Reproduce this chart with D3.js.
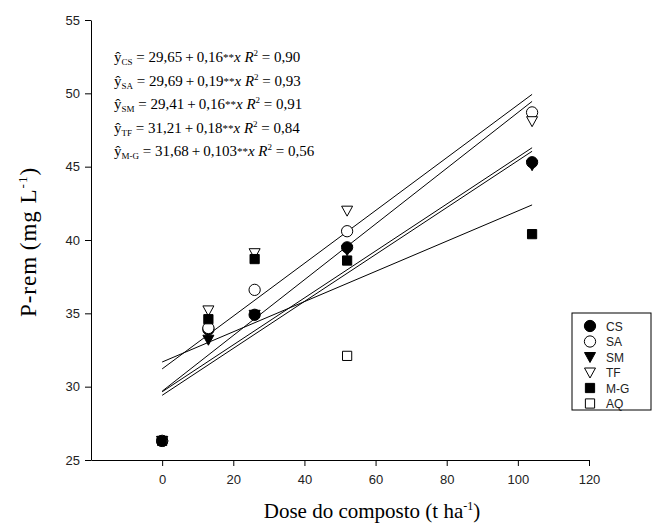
<!DOCTYPE html>
<html>
<head>
<meta charset="utf-8">
<script src="https://cdn.jsdelivr.net/npm/d3@7"></script>
<style>
  html, body { margin: 0; padding: 0; background: #fff; }
  svg { display: block; }
</style>
</head>
<body>
<svg id="chart" width="655" height="526"></svg>
<script>
// Compost dose (t/ha) and remaining P (mg/L) for each soil
const doses = [0, 13, 26, 52, 104];
const seriesNames = ["CS", "SA", "SM", "TF", "M-G", "AQ"];
const valuesCS = [26.3, 33.9, 34.9, 39.5, 45.3];
const valuesSA = [26.3, 34.0, 36.6, 40.6, 48.7];
const valuesSM = [26.3, 33.2, 34.9, 39.3, 45.1];
const valuesTF = [26.3, 35.2, 39.1, 42.0, 48.1];
const valuesMG = [26.3, 34.6, 38.7, 38.6, 40.4];
const valuesAQ = [null, null, null, 32.1, null];

// Fitted linear models: y = a + b x
const fitNames = ["CS", "SA", "SM", "TF", "M-G"];
const fitIntercepts = [29.65, 29.69, 29.41, 31.21, 31.68];
const fitSlopes = [0.16, 0.19, 0.16, 0.18, 0.103];
const fitR2 = [0.90, 0.93, 0.91, 0.84, 0.56];

const xTicks = [0, 20, 40, 60, 80, 100, 120];
const yTicks = [25, 30, 35, 40, 45, 50, 55];

const allValues = [valuesCS, valuesSA, valuesSM, valuesTF, valuesMG, valuesAQ];
const symbols = [
  { type: d3.symbolCircle, fill: "#000", size: 100 },
  { type: d3.symbolCircle, fill: "#fff", size: 100 },
  { type: "triDown", fill: "#000" },
  { type: "triDown", fill: "#fff" },
  { type: d3.symbolSquare, fill: "#000", size: 85 },
  { type: d3.symbolSquare, fill: "#fff", size: 85 }
];

const svg = d3.select("#chart");
const x = d3.scaleLinear().domain([-20, 120]).range([91, 589]);
const y = d3.scaleLinear().domain([25, 55]).range([460, 20]);

const tickFont = "'Liberation Sans', Arial, sans-serif";
const serif = "'Liberation Serif', 'Times New Roman', serif";

// Axes
const gx = svg.append("g").attr("transform", `translate(0,${y(25)})`)
  .call(d3.axisBottom(x).tickValues(xTicks).tickSize(6).tickPadding(9).tickSizeOuter(0));
const gy = svg.append("g").attr("transform", `translate(${x(-20)},0)`)
  .call(d3.axisLeft(y).tickValues(yTicks).tickSize(6).tickPadding(5).tickSizeOuter(0));
[gx, gy].forEach(g => {
  g.selectAll("text").attr("font-family", tickFont).attr("font-size", 13).attr("fill", "#222");
  g.selectAll("line, path").attr("stroke", "#000").attr("stroke-width", 1);
});

// Axis titles
const xt = svg.append("text")
  .attr("x", 372).attr("y", 518)
  .attr("text-anchor", "middle").attr("font-family", serif).attr("font-size", 21);
xt.append("tspan").text("Dose do composto (t ha");
xt.append("tspan").attr("font-size", 12).attr("dy", -8).text("-1");
xt.append("tspan").attr("dy", 8).text(")");

const yt = svg.append("text")
  .attr("transform", `translate(36,${(y(25) + y(55)) / 2 + 2}) rotate(-90)`)
  .attr("text-anchor", "middle").attr("font-family", serif).attr("font-size", 23)
  .attr("letter-spacing", 1);
yt.append("tspan").text("P-rem\u2009(mg L");
yt.append("tspan").attr("font-size", 13).attr("dy", -9).text("-1");
yt.append("tspan").attr("dy", 9).text(")");

// Regression lines over the dose range
const line = d3.line().x(d => x(d[0])).y(d => y(d[1]));
const xMin = d3.min(doses), xMax = d3.max(doses);
fitNames.forEach((n, i) => {
  const a = fitIntercepts[i], b = fitSlopes[i];
  svg.append("path")
    .attr("d", line([[xMin, a + b * xMin], [xMax, a + b * xMax]]))
    .attr("fill", "none").attr("stroke", "#000").attr("stroke-width", 1);
});

// Marker drawing
function marker(g, s) {
  if (s.type === "triDown") {
    g.append("path").attr("d", "M-5.5,-4.5L5.5,-4.5L0,5.5Z")
      .attr("fill", s.fill).attr("stroke", "#000").attr("stroke-width", 1);
  } else {
    g.append("path").attr("d", d3.symbol().type(s.type).size(s.size)())
      .attr("fill", s.fill).attr("stroke", "#000").attr("stroke-width", 1);
  }
}

allValues.forEach((vals, i) => {
  vals.forEach((v, j) => {
    if (v == null) return;
    const g = svg.append("g").attr("transform", `translate(${x(doses[j])},${y(v)})`);
    marker(g, symbols[i]);
  });
});

// Equations
const fmt = v => String(v).replace(".", ",");
const eqG = svg.append("g").attr("font-family", serif).attr("font-size", 15).attr("fill", "#000");
fitNames.forEach((n, i) => {
  const t = eqG.append("text").attr("x", 114).attr("y", 62 + i * 23.6);
  t.append("tspan").text("ŷ");
  t.append("tspan").attr("font-size", 9).attr("dy", 3).text(n.toUpperCase());
  t.append("tspan").attr("dy", -3)
    .text(` = ${fitIntercepts[i].toFixed(2).replace(".", ",")}\u2009+\u2009${fmt(fitSlopes[i])}`);
  t.append("tspan").attr("font-size", 11).attr("dy", -1).text("**");
  t.append("tspan").attr("dy", 1).attr("font-style", "italic").text("x");
  t.append("tspan").attr("font-style", "italic").text("  R");
  t.append("tspan").attr("font-size", 9).attr("dy", -6).text("2");
  t.append("tspan").attr("dy", 6).text(` = ${fitR2[i].toFixed(2).replace(".", ",")}`);
});

// Legend
const lg = svg.append("g").attr("transform", "translate(572,313)");
lg.append("rect").attr("width", 79).attr("height", 97)
  .attr("fill", "#fff").attr("stroke", "#000").attr("stroke-width", 1);
seriesNames.forEach((n, i) => {
  const row = lg.append("g").attr("transform", `translate(0,${13 + i * 15.5})`);
  const mg = row.append("g").attr("transform", "translate(18,0)");
  marker(mg, symbols[i]);
  row.append("text").attr("x", 34).attr("y", 4.5)
    .attr("font-family", tickFont).attr("font-size", 12).attr("fill", "#222").text(n);
});
</script>
</body>
</html>
